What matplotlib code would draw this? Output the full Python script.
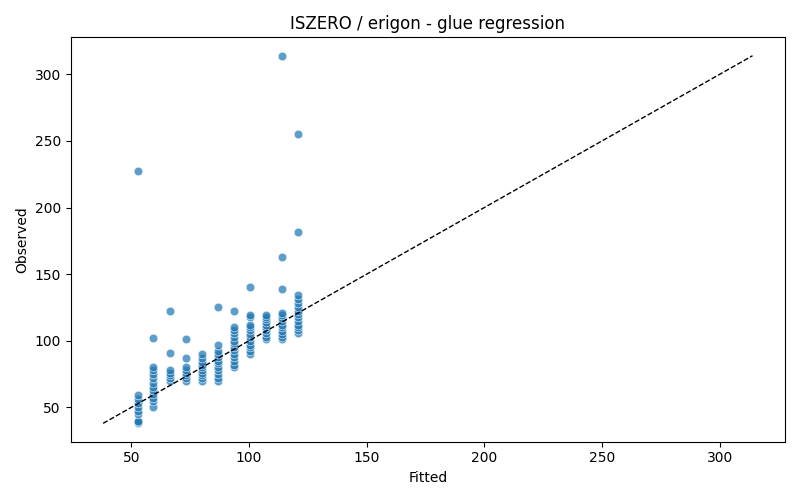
import matplotlib
matplotlib.use("Agg")
import matplotlib.pyplot as plt
import numpy as np

# fitted levels (one per group) and observed values in each group
fitted_levels = [52.8, 59.4, 66.6, 73.4, 80.1, 86.9, 93.7, 100.4, 107.2, 113.9, 120.7]
observed_groups = [
    [38, 39, 40, 45, 47, 50, 53, 56, 59, 227.5],
    [50, 55, 57, 60, 63, 65, 68, 72, 75, 78, 80, 102],
    [70, 72, 74, 76, 78, 91, 122],
    [70, 72, 74, 76, 78, 80, 87, 101.5],
    [70, 72, 74, 76, 78, 80, 82, 84, 87, 90],
    [70, 72, 75, 78, 80, 83, 85, 88, 90, 92, 97, 125],
    [80, 82, 85, 88, 90, 93, 95, 98, 100, 103, 106, 108, 110, 122.5],
    [90, 92, 95, 97, 100, 103, 105, 108, 110, 112, 118, 119, 140.5],
    [101, 103, 106, 108, 110, 112, 114, 116, 118, 119],
    [101, 103, 105, 107, 110, 112, 115, 117, 119, 121, 139, 163, 314],
    [106, 108, 110, 112, 115, 118, 120, 122, 125, 128, 131, 134, 182, 255],
]

fitted = np.concatenate([[f] * len(g) for f, g in zip(fitted_levels, observed_groups)])
observed = np.concatenate([np.array(g, dtype=float) for g in observed_groups])

fig, ax = plt.subplots(figsize=(8, 5), dpi=100)
ax.scatter(fitted, observed, s=38, color="#1f77b4", alpha=0.72,
           edgecolors="white", linewidths=0.5)
lo = min(fitted.min(), observed.min())
hi = max(fitted.max(), observed.max())
ax.plot([lo, hi], [lo, hi], "k--", linewidth=1)
ax.set_xlabel("Fitted")
ax.set_ylabel("Observed")
ax.set_title("ISZERO / erigon - glue regression")
fig.tight_layout()
fig.savefig("out.png")
